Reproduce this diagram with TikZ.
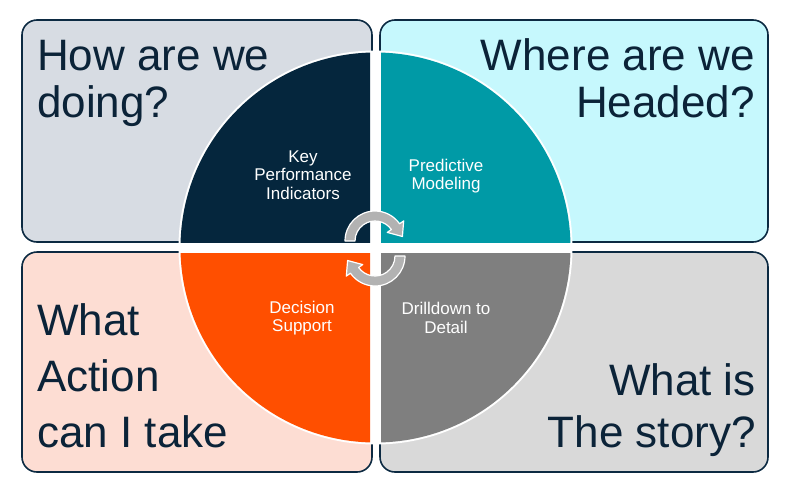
\documentclass[tikz,border=0pt]{standalone}
\usepackage{fontspec}
\setmainfont{Liberation Sans}
\definecolor{navyline}{HTML}{0C2A42}
\definecolor{navytext}{HTML}{0B2338}
\definecolor{filltl}{HTML}{D7DCE3}
\definecolor{filltr}{HTML}{C6F8FD}
\definecolor{fillbl}{HTML}{FDDDD3}
\definecolor{fillbr}{HTML}{D9D9D9}
\definecolor{kpiblue}{HTML}{05263D}
\definecolor{predteal}{HTML}{009AA6}
\definecolor{decorange}{HTML}{FF4F00}
\definecolor{drillgray}{HTML}{7F7F7F}
\definecolor{turngray}{HTML}{B2B2B2}

\begin{document}
\begin{tikzpicture}[x=1pt, y=-1pt,
		box/.style={draw=navyline, line width=1.6pt, rounded corners=15pt},
		bigtext/.style={text=navytext, font=\fontsize{44}{47}\selectfont, inner sep=0pt},
		smalltext/.style={text=white, align=center, font=\fontsize{17}{18.5}\selectfont, inner sep=0pt},
		turn/.style={fill=turngray, draw=white, line width=1.2pt, line join=round}]
	% Bildbereich
	\useasboundingbox (0,0) rectangle (795,493);
	% Felder
	\draw[box, fill=filltl] (22,20) rectangle (372,242);
	\draw[box, fill=filltr] (380,20) rectangle (768,242);
	\draw[box, fill=fillbl] (22,252) rectangle (372,472);
	\draw[box, fill=fillbr] (380,252) rectangle (768,472);
	% Fragen (base = letzte Zeile)
	\node[bigtext, anchor=base west, align=left] (how) at (37,117) {How are we\\doing?};
	\node[bigtext, anchor=base east, align=right] (where) at (755,117) {Where are we\\Headed?};
	\node[bigtext, font=\fontsize{44}{56}\selectfont, anchor=base west, align=left] (action) at (37,447) {What\\Action\\can I take};
	\node[bigtext, font=\fontsize{44}{52}\selectfont, anchor=base east, align=right] (story) at (756,447) {What is\\The story?};
	% Kreis
	\coordinate (c) at (375.5,247.5);
	\fill[white] (c) circle (197);
	\foreach \sx/\sy/\col in {-1/-1/kpiblue, 1/-1/predteal, -1/1/decorange, 1/1/drillgray} {
		\begin{scope}
			\clip[shift={(c)}] (\sx*5.5,\sy*5.5) rectangle (\sx*200,\sy*200);
			\fill[\col] (c) circle (195);
		\end{scope}
	}
	% Pfeile
	\begin{scope}[shift={(375,241)}]
		\filldraw[turn] (180:30) arc[start angle=180, end angle=325, radius=30] -- (325:35) -- (27.4,-4.5) -- (325:15) -- (325:20) arc[start angle=325, end angle=180, radius=20] -- cycle;
	\end{scope}
	\begin{scope}[shift={(375,256)}]
		\filldraw[turn] (0:30) arc[start angle=0, end angle=145, radius=30] -- (145:35) -- (-27.4,4.5) -- (145:15) -- (145:20) arc[start angle=145, end angle=0, radius=20] -- cycle;
	\end{scope}
	% Beschriftung
	\node[smalltext] (kpi) at (303,175) {Key\\Performance\\Indicators};
	\node[smalltext] (pred) at (446,176) {Predictive\\Modeling};
	\node[smalltext] (dec) at (302,318) {Decision\\Support};
	\node[smalltext] (drill) at (446,318) {Drilldown to\\Detail};
\end{tikzpicture}
\end{document}
